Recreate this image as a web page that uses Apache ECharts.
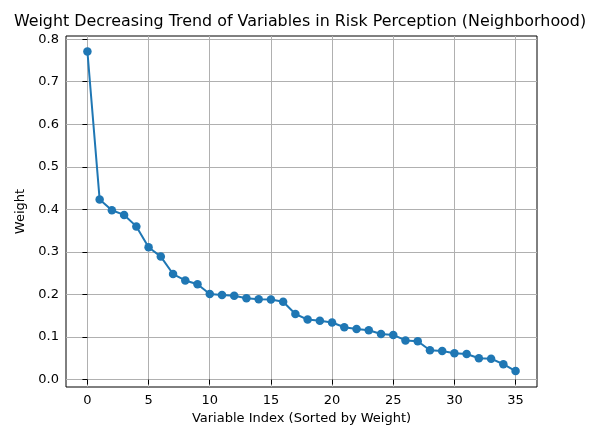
<!DOCTYPE html>
<html>
<head>
<meta charset="utf-8">
<script src="https://cdn.jsdelivr.net/npm/echarts@6/dist/echarts.min.js"></script>
<style>
  html, body { margin: 0; padding: 0; background: #fff; }
  #chart { width: 597px; height: 433px; }
</style>
</head>
<body>
<div id="chart"></div>
<script>
  // weights sorted descending
  const weights = [
    0.771, 0.423, 0.398, 0.387, 0.360, 0.311, 0.289, 0.248, 0.233, 0.224,
    0.201, 0.199, 0.197, 0.191, 0.189, 0.188, 0.183, 0.154, 0.141, 0.138,
    0.134, 0.123, 0.119, 0.116, 0.107, 0.105, 0.092, 0.090, 0.069, 0.067,
    0.062, 0.060, 0.050, 0.049, 0.036, 0.020
  ];
  const xTicks = [0, 5, 10, 15, 20, 25, 30, 35];
  const yTicks = [0, 0.1, 0.2, 0.3, 0.4, 0.5, 0.6, 0.7, 0.8];

  const font = 'DejaVu Sans';
  const chart = echarts.init(document.getElementById('chart'));

  const points = weights.map(function (w, i) { return [i, w]; });

  chart.setOption({
    animation: false,
    title: {
      text: 'Weight Decreasing Trend of Variables in Risk Perception (Neighborhood)',
      left: 295,
      textAlign: 'center',
      top: 9,
      textStyle: { fontFamily: font, fontSize: 15.9, fontWeight: 'normal', color: '#000' }
    },
    grid: {
      left: 66, right: 60, top: 36, bottom: 46,
      show: true, borderColor: '#000', borderWidth: 1, backgroundColor: '#fff'
    },
    xAxis: {
      type: 'value',
      min: -1.75, max: 36.75,
      name: 'Variable Index (Sorted by Weight)',
      nameLocation: 'middle',
      nameGap: 24,
      nameTextStyle: { fontFamily: font, fontSize: 13, color: '#000' },
      axisLine: { show: false },
      axisTick: { show: true, length: 5, lineStyle: { color: '#000' }, customValues: xTicks },
      axisLabel: { fontFamily: font, fontSize: 13, color: '#000', margin: 7, customValues: xTicks },
      splitLine: { show: true, lineStyle: { color: '#b0b0b0', width: 1 } }
    },
    yAxis: {
      type: 'value',
      min: -0.0175, max: 0.8075,
      name: 'Weight',
      nameLocation: 'middle',
      nameGap: 38,
      nameTextStyle: { fontFamily: font, fontSize: 13, color: '#000' },
      axisLine: { show: false },
      axisTick: { show: true, length: 5, lineStyle: { color: '#000' }, customValues: yTicks },
      axisLabel: {
        fontFamily: font, fontSize: 13, color: '#000', margin: 7, customValues: yTicks,
        formatter: function (v) { return v.toFixed(1); }
      },
      splitLine: { show: true, lineStyle: { color: '#b0b0b0', width: 1 } }
    },
    series: [{
      type: 'line',
      data: points,
      symbol: 'circle',
      symbolSize: 8.5,
      itemStyle: { color: '#1f77b4' },
      lineStyle: { color: '#1f77b4', width: 2 }
    }]
  });
</script>
</body>
</html>
